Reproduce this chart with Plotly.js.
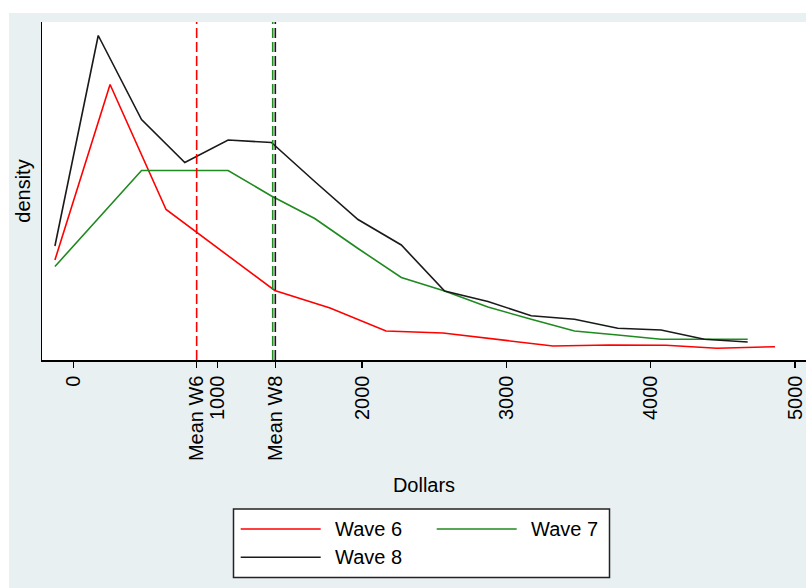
<!DOCTYPE html>
<html>
<head>
<meta charset="utf-8">
<script src="https://cdn.plot.ly/plotly-3.0.1.min.js"></script>
<style>
  html, body { margin: 0; padding: 0; background: #ffffff; width: 806px; height: 588px; overflow: hidden; }
  #chart { position: absolute; left: 9px; top: 13px; width: 797px; height: 575px; }
</style>
</head>
<body>
<div id="chart"></div>
<script>
// ---- data (dollars vs. kernel density) ----
const wave6X = [-128, 254, 642, 1022, 1395, 1778, 2166, 2561, 2942, 3323, 3711, 4106, 4459, 4861];
const wave6Y = [0.000200, 0.000551, 0.000301, 0.000220, 0.000139, 0.000104, 0.000058, 0.000054, 0.000041, 0.000028, 0.000030, 0.0000294, 0.0000234, 0.0000266];

const wave7X = [-128, 172, 472, 772, 1072, 1372, 1672, 1972, 2272, 2572, 2872, 3172, 3472, 3772, 4072, 4372, 4672];
const wave7Y = [0.000187, 0.000283, 0.000379, 0.000379, 0.000379, 0.000328, 0.000283, 0.000223, 0.000165, 0.000138, 0.000106, 0.0000814, 0.000058, 0.000050, 0.0000414, 0.0000414, 0.0000414];

const wave8X = [-128, 172, 472, 772, 1072, 1372, 1672, 1972, 2272, 2572, 2872, 3172, 3472, 3772, 4072, 4372, 4672];
const wave8Y = [0.000228, 0.000649, 0.000481, 0.000395, 0.000440, 0.000435, 0.000357, 0.000281, 0.000230, 0.000138, 0.000117, 0.0000886, 0.0000814, 0.0000634, 0.000060, 0.0000414, 0.000036];

const seriesNames = ["Wave 6", "Wave 7", "Wave 8"];
const meanValues = [854, 1381, 1399];      // Mean W6, Mean W7, Mean W8
const tickValues = [0, 854, 1000, 1399, 2000, 3000, 4000, 5000];
const tickLabels = ["0", "Mean W6", "1000", "Mean W8", "2000", "3000", "4000", "5000"];

// ---- styles ----
const colors = ["#ff0000", "#1f8a1f", "#1a1a1a"];
const FONT = "Liberation Sans, Arial, Helvetica, sans-serif";

// plot-area geometry in window pixels (div is offset 9,13)
const PL = 42, PR = 806, PT = 22, PB = 360;
const W = PR - PL, H = PB - PT;
const px = x => (x - PL) / W;
const py = y => (PB - y) / H;

const traces = [
  {x: wave6X, y: wave6Y, name: seriesNames[0], type: "scatter", mode: "lines", line: {color: colors[0], width: 1.6}},
  {x: wave7X, y: wave7Y, name: seriesNames[1], type: "scatter", mode: "lines", line: {color: colors[1], width: 1.6}},
  {x: wave8X, y: wave8Y, name: seriesNames[2], type: "scatter", mode: "lines", line: {color: colors[2], width: 1.6}}
];

const shapes = meanValues.map((m, i) => ({
  type: "line", xref: "x", yref: "paper", x0: m, x1: m, y0: 0, y1: 1,
  line: {color: colors[i], width: 1.6, dash: "10px,4px"}
}));

// hand-drawn legend box (Stata style)
shapes.push({type: "rect", xref: "paper", yref: "paper",
  x0: px(233.5), x1: px(609.5), y0: py(577.5), y1: py(509),
  line: {color: "#222222", width: 1.5}, fillcolor: "#ffffff", layer: "above"});
const annotations = [];
const entryPos = [[240.7, 529], [436.7, 529], [240.7, 557.3]];
entryPos.forEach((p, i) => {
  shapes.push({type: "line", xref: "paper", yref: "paper",
    x0: px(p[0]), x1: px(p[0] + 80), y0: py(p[1]), y1: py(p[1]),
    line: {color: colors[i], width: 1.6}});
  annotations.push({xref: "paper", yref: "paper", x: px(p[0] + 92), y: py(p[1]),
    xanchor: "left", yanchor: "middle", showarrow: false, text: seriesNames[i],
    font: {family: FONT, size: 20, color: "#000000"}});
});

const layout = {
  width: 797, height: 575,
  margin: {l: PL - 9, r: 0, t: PT - 13, b: 575 - (PB - 13)},
  paper_bgcolor: "#e9f0f2",
  plot_bgcolor: "#ffffff",
  showlegend: false,
  font: {family: FONT, size: 20, color: "#000000"},
  xaxis: {
    range: [-217.6, 5076],
    tickmode: "array", tickvals: tickValues, ticktext: tickLabels,
    tickangle: -90, ticks: "outside", ticklen: 6, tickwidth: 1.5, tickcolor: "#000000",
    tickfont: {family: FONT, size: 20, color: "#000000"},
    showline: true, linecolor: "#000000", linewidth: 1.5,
    showgrid: false, zeroline: false,
    title: {text: "Dollars", font: {family: FONT, size: 20, color: "#000000"}, standoff: 18}
  },
  yaxis: {
    range: [0, 0.000676],
    showticklabels: false, ticks: "",
    showline: true, linecolor: "#000000", linewidth: 1.5,
    showgrid: false, zeroline: false,
    title: {text: "density", font: {family: FONT, size: 20, color: "#000000"}, standoff: 4}
  },
  shapes: shapes,
  annotations: annotations
};

Plotly.newPlot("chart", traces, layout, {displayModeBar: false, staticPlot: true});
</script>
</body>
</html>
